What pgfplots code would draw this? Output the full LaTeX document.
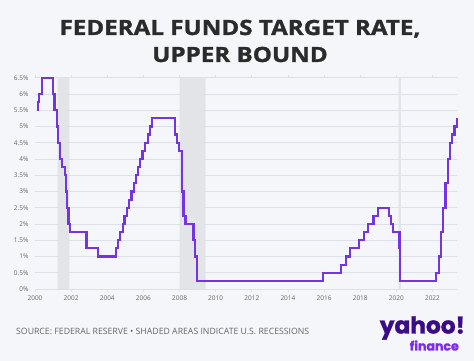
\documentclass[border=0pt]{standalone}
\usepackage{fontspec}
\setmainfont{Open Sans}
\newfontfamily\titlefont{Open Sans}[BoldFeatures={FakeBold=1.2}]
\newfontfamily\logofont{Poppins}[BoldFeatures={FakeBold=1.5}]
\usepackage{pgfplots}
\pgfplotsset{compat=1.18}
\definecolor{bgc}{HTML}{F4F6F9}
\definecolor{titlec}{HTML}{2B2B2B}
\definecolor{linec}{HTML}{7434E2}
\definecolor{gridc}{HTML}{DDE1E7}
\definecolor{recc}{HTML}{E2E4E7}
\definecolor{tickc}{HTML}{666666}
\definecolor{yahooc}{HTML}{3A0C86}
\definecolor{financec}{HTML}{7E2BF0}
\begin{document}
\begin{tikzpicture}[x=1pt,y=1pt]
\fill[bgc] (0,0) rectangle (474,361);
\node[anchor=base, inner sep=0pt, text=titlec] at (240,326) {\scalebox{1.15}[1]{\fontsize{21}{25}\titlefont\bfseries FEDERAL FUNDS TARGET RATE,}};
\node[anchor=base, inner sep=0pt, text=titlec] at (240,299) {\scalebox{1.15}[1]{\fontsize{21}{25}\titlefont\bfseries UPPER BOUND}};
\begin{axis}[
  at={(35pt,72pt)}, anchor=south west,
  scale only axis, width=421.7pt, height=211.3pt,
  xmin=2000, xmax=2023.34, ymin=0, ymax=6.5,
  axis line style={draw=none},
  ymajorgrids, grid style={gridc, line width=0.8pt},
  ytick={0,0.5,...,6.5},
  xtick={2000,2002,...,2022},
  xticklabel style={/pgf/number format/1000 sep={}},
  yticklabel={\pgfmathprintnumber{\tick}\%},
  /pgf/number format/assume math mode=true,
  ticklabel style={font=\fontsize{6.5}{7}\selectfont, text=tickc},
  xtick style={draw=gridc, line width=0.8pt},
  ytick style={draw=none},
  tick align=outside, major tick length=3pt,
  clip=false,
]
\addplot[fill=recc, draw=none] coordinates {(2001.25,0) (2001.25,6.5) (2001.9,6.5) (2001.9,0)} \closedcycle;
\addplot[fill=recc, draw=none] coordinates {(2008.0,0) (2008.0,6.5) (2009.45,6.5) (2009.45,0)} \closedcycle;
\addplot[fill=recc, draw=none] coordinates {(2020.12,0) (2020.12,6.5) (2020.25,6.5) (2020.25,0)} \closedcycle;
\addplot[const plot, linec, line width=2.2pt, line join=miter] coordinates {
(2000.10,5.5) (2000.15,5.75) (2000.22,6.0) (2000.37,6.5) (2001.01,6.0) (2001.08,5.5)
(2001.21,5.0) (2001.29,4.5) (2001.37,4.0) (2001.49,3.75) (2001.64,3.5) (2001.71,3.0)
(2001.75,2.5) (2001.85,2.0) (2001.94,1.75) (2002.85,1.25) (2003.48,1.0) (2004.49,1.25)
(2004.61,1.5) (2004.72,1.75) (2004.86,2.0) (2004.95,2.25) (2005.09,2.5) (2005.22,2.75)
(2005.34,3.0) (2005.49,3.25) (2005.61,3.5) (2005.72,3.75) (2005.83,4.0) (2005.95,4.25)
(2006.08,4.5) (2006.24,4.75) (2006.36,5.0) (2006.49,5.25) (2007.76,4.75) (2007.85,4.5)
(2007.96,4.25) (2008.12,3.0) (2008.22,2.25) (2008.33,2.0) (2008.77,1.5) (2008.85,1.0)
(2008.98,0.25) (2015.96,0.5) (2016.95,0.75) (2017.20,1.0) (2017.45,1.25) (2017.95,1.5)
(2018.22,1.75) (2018.45,2.0) (2018.74,2.25) (2018.97,2.5) (2019.58,2.25) (2019.71,2.0)
(2019.83,1.75) (2020.17,1.25) (2020.20,0.25) (2022.21,0.5) (2022.34,1.0) (2022.46,1.75)
(2022.57,2.5) (2022.72,3.25) (2022.84,4.0) (2022.95,4.5) (2023.09,4.75) (2023.22,5.0)
(2023.34,5.25)
};
\end{axis}
\node[anchor=base west, inner sep=0pt, text=tickc] at (16,26) {\resizebox{293pt}{!}{\fontsize{9}{10}\selectfont SOURCE: FEDERAL RESERVE • SHADED AREAS INDICATE U.S. RECESSIONS}};
\node[anchor=base east, inner sep=0pt, text=yahooc] at (465,27.5) {\resizebox{85pt}{!}{\logofont\bfseries yahoo!}};
\node[anchor=base east, inner sep=0pt, text=financec] at (459,10.5) {\resizebox{49pt}{!}{\logofont\bfseries finance}};
\end{tikzpicture}
\end{document}
